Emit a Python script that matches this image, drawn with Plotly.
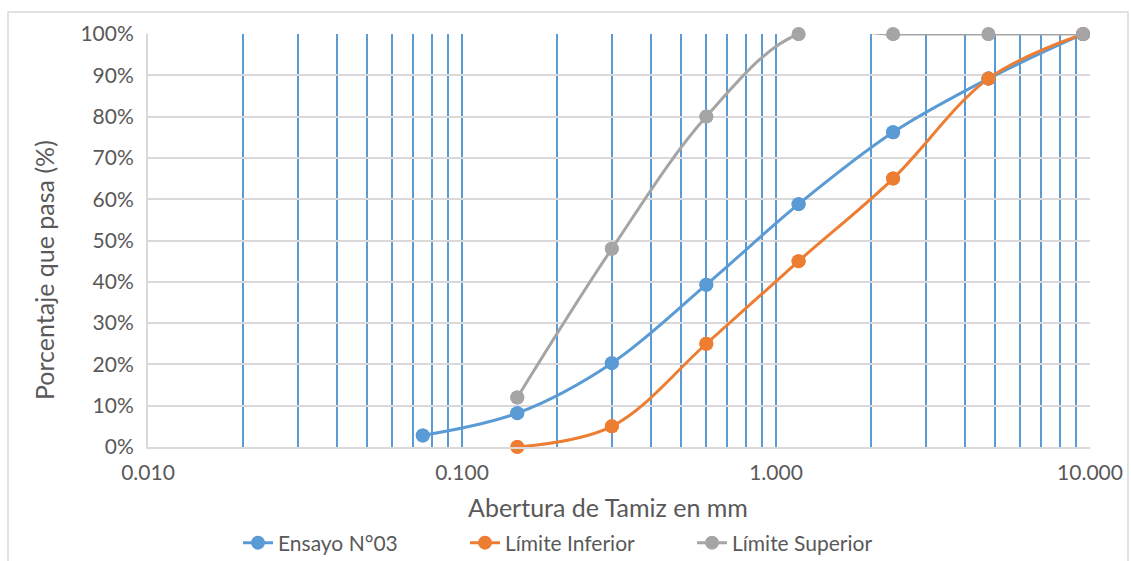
import plotly.graph_objects as go

# Sieve openings (mm)
x_ensayo = [0.075, 0.15, 0.3, 0.6, 1.18, 2.36, 4.75, 9.5]
y_ensayo = [2.8, 8.2, 20.3, 39.3, 58.8, 76.2, 89.2, 100]

x_lim = [0.15, 0.3, 0.6, 1.18, 2.36, 4.75, 9.5]
y_inferior = [0, 5, 25, 45, 65, 89.2, 100]
y_superior = [12, 48, 80, 100, 100, 100, 100]

series_names = ["Ensayo N°03", "Límite Inferior", "Límite Superior"]
colors = ["#5B9BD5", "#ED7D31", "#A5A5A5"]

x_tickvals = [0.01, 0.1, 1, 10]
x_ticktext = ["0.010", "0.100", "1.000", "10.000"]

FONT = "Lato, 'Open Sans', sans-serif"
TXT = "#595959"

W, H = 1131, 561
L, R, T, B = 148, 41, 34, 114
PW, PH = W - L - R, H - T - B

def px_x(p):
    return (p - L) / PW

def px_y(p):
    return (H - B - p) / PH

fig = go.Figure()
data = [(x_ensayo, y_ensayo), (x_lim, y_inferior), (x_lim, y_superior)]
for (xs, ys), name, c in zip(data, series_names, colors):
    fig.add_trace(go.Scatter(
        x=xs, y=ys, name=name, mode="lines+markers",
        line=dict(color=c, width=3, shape="spline", smoothing=1),
        marker=dict(color=c, size=14),
        cliponaxis=True,
    ))
for (xs, ys), name, c in zip(data, series_names, colors):
    fig.add_trace(go.Scatter(
        x=xs, y=ys, name=name, mode="markers", showlegend=False,
        marker=dict(color=c, size=14), cliponaxis=False, hoverinfo="skip",
    ))

fig.update_layout(
    width=W, height=H,
    margin=dict(l=L, r=R, t=T, b=B, autoexpand=False),
    paper_bgcolor="white", plot_bgcolor="white",
    font=dict(family=FONT, color=TXT, size=21),
    showlegend=True,
    legend=dict(orientation="h", x=px_x(238), xanchor="left", y=px_y(543), yanchor="middle",
                font=dict(size=21, color=TXT), traceorder="normal",
                entrywidth=182, entrywidthmode="pixels"),
    xaxis=dict(
        type="log", range=[-2, 1],
        tickvals=x_tickvals, ticktext=x_ticktext,
        showgrid=True, gridcolor="#5B9BD5", gridwidth=1.8,
        minor=dict(dtick="D1", showgrid=True, gridcolor="#5B9BD5", gridwidth=1.8, ticks=""),
        showline=True, linecolor="#D9D9D9", linewidth=2,
        ticks="", ticklabelstandoff=6,
        tickfont=dict(size=21, color=TXT),
        automargin=False, zeroline=False,
    ),
    yaxis=dict(
        range=[0, 100], dtick=10, ticksuffix="%",
        showgrid=True, gridcolor="#D9D9D9", gridwidth=1.5,
        showline=True, linecolor="#D9D9D9", linewidth=2,
        ticks="", ticklabelstandoff=8,
        tickfont=dict(size=21, color=TXT),
        automargin=False, zeroline=False,
    ),
)

fig.add_annotation(text="Abertura de Tamiz en mm", xref="paper", yref="paper",
                   x=px_x(608), y=px_y(507), xanchor="center", yanchor="middle",
                   showarrow=False, font=dict(size=25, color=TXT))
fig.add_annotation(text="Porcentaje que pasa (%)", xref="paper", yref="paper",
                   x=px_x(44), y=px_y(270), xanchor="center", yanchor="middle",
                   textangle=-90, showarrow=False, font=dict(size=25, color=TXT))

fig.add_shape(type="rect", xref="paper", yref="paper",
              x0=px_x(8), x1=px_x(1128), y0=px_y(570), y1=px_y(12),
              line=dict(color="#D9D9D9", width=1.5), layer="below")

fig.write_html("out.html")
